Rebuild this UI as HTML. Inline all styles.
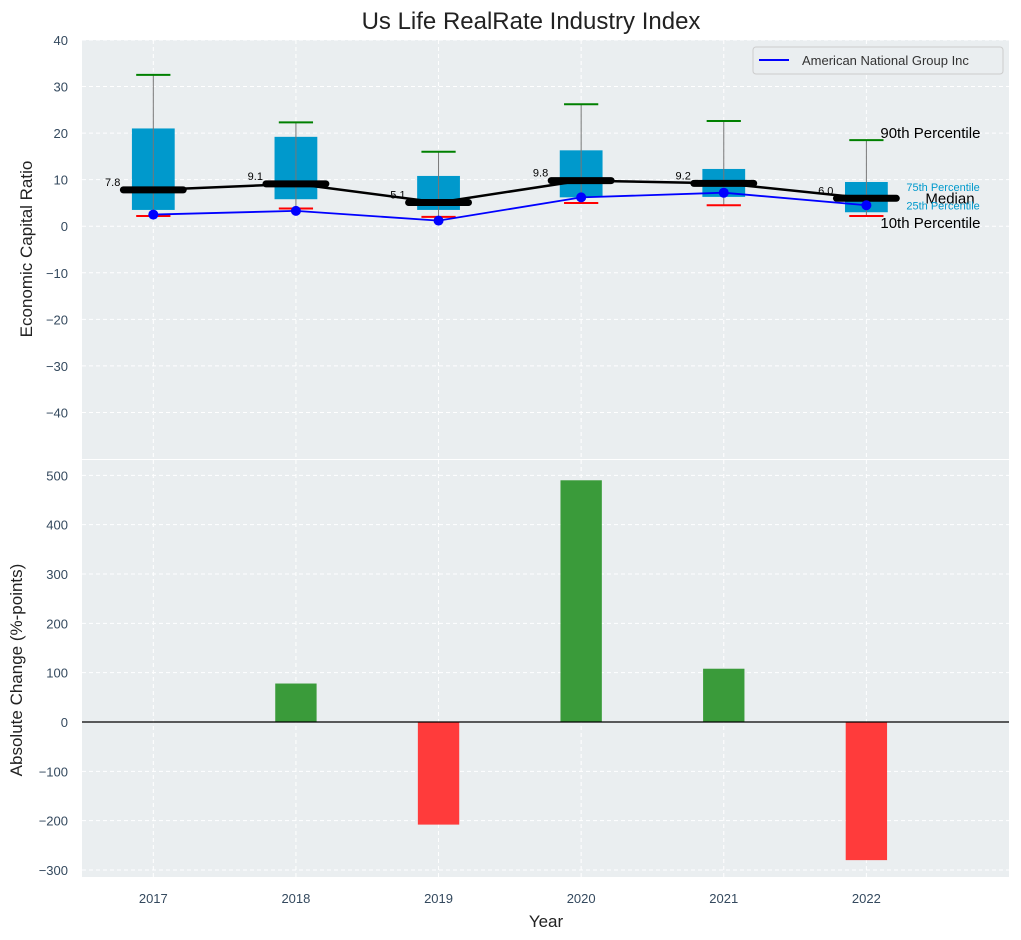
<!DOCTYPE html>
<html><head><meta charset="utf-8">
<style>
body{margin:0;background:#fff;}
svg{display:block;font-family:"Liberation Sans",Arial,sans-serif;}
</style></head>
<body>
<svg id="chart" width="1021" height="940"></svg>
<script>
const years=[2017,2018,2019,2020,2021,2022];
const p90=[32.5,22.3,16.0,26.2,22.6,18.5];
const p75=[21.0,19.2,10.8,16.3,12.3,9.5];
const p25=[3.5,5.8,3.5,6.2,6.3,3.0];
const p10=[2.2,3.8,2.0,5.0,4.5,2.2];
const medians=[7.8,9.1,5.1,9.8,9.2,6.0];
const company=[2.5,3.3,1.2,6.2,7.2,4.5];
const changeYears=[2018,2019,2020,2021,2022];
const changes=[78,-208,490,108,-280];
const topTicks=[40,30,20,10,0,-10,-20,-30,-40];
const botTicks=[500,400,300,200,100,0,-100,-200,-300];

const NS="http://www.w3.org/2000/svg";
const svg=document.getElementById('chart');
function el(tag,attrs,text){const e=document.createElementNS(NS,tag);for(const k in attrs)e.setAttribute(k,attrs[k]);if(text!==undefined)e.textContent=text;svg.appendChild(e);return e;}
const X0=82,X1=1009;
const xs=v=>X0+(v-2016.5)/(2023-2016.5)*(X1-X0);
const T0=40,T1=459;const yt=v=>T0+(40-v)/90*(T1-T0);
const B0=460,B1=877;const yb=v=>722-v*0.4933;

let e;
e=el('rect',{x:X0,y:T0,width:X1-X0,height:T1-T0,fill:'#eaeef0'});

e=el('rect',{x:X0,y:B0,width:X1-X0,height:B1-B0,fill:'#eaeef0'});


years.forEach(y=>{
 el('line',{x1:xs(y),x2:xs(y),y1:T0,y2:T1,stroke:'#fff','stroke-dasharray':'4,3','stroke-width':1});
 el('line',{x1:xs(y),x2:xs(y),y1:B0,y2:B1,stroke:'#fff','stroke-dasharray':'4,3','stroke-width':1});
 e=el('text',{x:xs(y),y:903,'font-size':13,fill:'#34495e','text-anchor':'middle'},y);
 
});
topTicks.forEach(t=>{
 el('line',{x1:X0,x2:X1,y1:yt(t),y2:yt(t),stroke:'#fff','stroke-dasharray':'4,3','stroke-width':1});
 e=el('text',{x:68,y:yt(t)+5,'font-size':13,fill:'#34495e','text-anchor':'end'},t<0?'\u2212'+(-t):t);
 
});
botTicks.forEach(t=>{
 el('line',{x1:X0,x2:X1,y1:yb(t),y2:yb(t),stroke:'#fff','stroke-dasharray':'4,3','stroke-width':1});
 e=el('text',{x:68,y:yb(t)+5,'font-size':13,fill:'#34495e','text-anchor':'end'},t<0?'\u2212'+(-t):t);
 
});

const bw=0.3*(xs(1)-xs(0)), mw=0.42*(xs(1)-xs(0)), cw=0.12*(xs(1)-xs(0));
years.forEach((y,i)=>{
 const cx=xs(y);
 e=el('rect',{x:cx-bw/2,y:yt(p75[i]),width:bw,height:yt(p25[i])-yt(p75[i]),fill:'#0099cc'});
 
 el('line',{x1:cx,x2:cx,y1:yt(p90[i]),y2:yt(p10[i]),stroke:'#777','stroke-width':1});
 e=el('line',{x1:cx-cw,x2:cx+cw,y1:yt(p90[i]),y2:yt(p90[i]),stroke:'green','stroke-width':2});
 
 e=el('line',{x1:cx-cw,x2:cx+cw,y1:yt(p10[i]),y2:yt(p10[i]),stroke:'red','stroke-width':2});
 
});
e=el('polyline',{points:years.map((y,i)=>xs(y)+','+yt(medians[i])).join(' '),fill:'none',stroke:'#000','stroke-width':2.5});

years.forEach((y,i)=>{
 e=el('line',{x1:xs(y)-mw/2,x2:xs(y)+mw/2,y1:yt(medians[i]),y2:yt(medians[i]),stroke:'#000','stroke-width':7,'stroke-linecap':'round'});
 
 e=el('text',{x:xs(y)-mw/2-3,y:yt(medians[i])-4,'font-size':11,fill:'#000','text-anchor':'end'},medians[i].toFixed(1));
 
});
e=el('polyline',{points:years.map((y,i)=>xs(y)+','+yt(company[i])).join(' '),fill:'none',stroke:'blue','stroke-width':1.8});

years.forEach((y,i)=>{
 e=el('circle',{cx:xs(y),cy:yt(company[i]),r:5,fill:'blue'});
 
});
const lx=xs(2022);
[['90th Percentile',lx+14,yt(p90[5])-2,15,'#000','p90'],['75th Percentile',lx+40,yt(p75[5])+9,11,'#0099cc','p75'],['Median',lx+59,yt(medians[5])+5,15,'#000','median'],['25th Percentile',lx+40,yt(p25[5])-3,11,'#0099cc','p25'],['10th Percentile',lx+14,yt(p10[5])+12,15,'#000','p10']].forEach(a=>{
 e=el('text',{x:a[1],y:a[2],'font-size':a[3],fill:a[4]},a[0]);
 
});
e=el('rect',{x:753,y:47,width:250,height:27,rx:3,fill:'#eaeef0',stroke:'#ccc'});

el('line',{x1:759,x2:789,y1:60,y2:60,stroke:'blue','stroke-width':2});
e=el('text',{x:802,y:65,'font-size':13,fill:'#333'},'American National Group Inc');


const barW=0.29*(xs(1)-xs(0));
changeYears.forEach((y,i)=>{
 const v=changes[i];
 e=el('rect',{x:xs(y)-barW/2,y:Math.min(yb(v),yb(0)),width:barW,height:Math.abs(yb(v)-yb(0)),fill:v>=0?'#3a9b3a':'#ff3b3b'});
 
});
el('line',{x1:X0,x2:X1,y1:yb(0),y2:yb(0),stroke:'#000','stroke-width':1.2});

e=el('text',{x:531,y:29,'font-size':24,fill:'#222','text-anchor':'middle'},'Us Life RealRate Industry Index');

e=el('text',{x:0,y:0,'font-size':17,fill:'#222','text-anchor':'middle',transform:'translate(32,249) rotate(-90)'},'Economic Capital Ratio');

e=el('text',{x:0,y:0,'font-size':17,fill:'#222','text-anchor':'middle',transform:'translate(22,670) rotate(-90)'},'Absolute Change (%-points)');

e=el('text',{x:546,y:927,'font-size':17,fill:'#222','text-anchor':'middle'},'Year');

</script>
</body></html>
